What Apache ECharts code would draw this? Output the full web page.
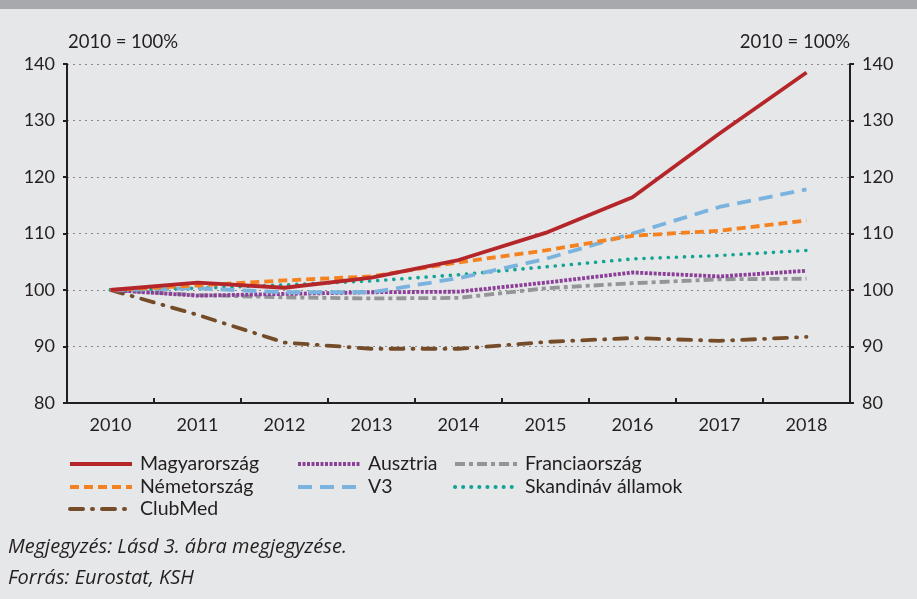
<!DOCTYPE html>
<html>
<head>
<meta charset="utf-8">
<script src="https://cdn.jsdelivr.net/npm/echarts@6/dist/echarts.min.js"></script>
<style>
  html, body { margin: 0; padding: 0; background: #e6e7e8; }
  #chart { width: 917px; height: 599px; }
</style>
</head>
<body>
<div id="chart"></div>
<script>
const years = ['2010', '2011', '2012', '2013', '2014', '2015', '2016', '2017', '2018'];
const yTicks = [80, 90, 100, 110, 120, 130, 140];

const magyarorszag = [100, 101.3, 100.4, 102.2, 105.3, 110.1, 116.4, 127.7, 138.5];
const nemetorszag = [100, 100.8, 101.7, 102.4, 104.9, 107.0, 109.6, 110.5, 112.3];
const ausztria = [100, 99.0, 99.3, 99.6, 99.7, 101.3, 103.1, 102.4, 103.4];
const v3 = [100, 100.3, 99.6, 99.6, 102.1, 105.5, 110.0, 114.7, 117.8];
const franciaorszag = [100, 99.1, 98.7, 98.5, 98.6, 100.3, 101.2, 101.9, 102.0];
const skandinav = [100, 100.3, 100.9, 101.6, 102.7, 104.1, 105.5, 106.1, 107.0];
const clubMed = [100, 95.6, 90.7, 89.6, 89.6, 90.8, 91.5, 91.0, 91.7];

const textColor = '#231f20';
const font = 'Lato';

function line(name, data, color, width, type, cap, z) {
  return {
    name: name,
    type: 'line',
    data: data,
    symbol: 'none',
    z: z,
    lineStyle: { color: color, width: width, type: type, cap: cap || 'butt' },
    itemStyle: { color: color },
    animation: false
  };
}

const series = [
  line('ClubMed', clubMed, '#754c29', 3.8, [13, 9, 1, 9], 'round', 2),
  line('Franciaország', franciaorszag, '#939598', 3.8, [10, 4, 4, 4], 'butt', 3),
  line('Ausztria', ausztria, '#8b3f98', 3.8, [3, 1.5], 'butt', 4),
  line('Skandináv államok', skandinav, '#14a397', 3.6, [0.1, 8], 'round', 5),
  line('V3', v3, '#7bb3df', 3.8, [14, 8], 'butt', 6),
  line('Németország', nemetorszag, '#f58220', 3.8, [9, 5], 'butt', 7),
  line('Magyarország', magyarorszag, '#b5262b', 3.8, 'solid', 'butt', 8)
];

const legendPos = [
  ['Magyarország', 68, 454],
  ['Ausztria', 296, 454],
  ['Franciaország', 453, 454],
  ['Németország', 68, 477],
  ['V3', 296, 477],
  ['Skandináv államok', 453, 477],
  ['ClubMed', 68, 499]
];

const chart = echarts.init(document.getElementById('chart'), null, { renderer: 'canvas' });

const axisCommon = {
  type: 'value',
  min: 80,
  max: 140,
  interval: 10,
  axisLine: { show: true, lineStyle: { color: textColor, width: 2 } },
  axisTick: { show: true, length: 4, lineStyle: { color: textColor, width: 2 } },
  axisLabel: { color: textColor, fontFamily: font, fontSize: 18, margin: 12 },
  splitLine: { show: false }
};

chart.setOption({
  backgroundColor: '#e6e7e8',
  animation: false,
  grid: { left: 67, right: 67, top: 64, bottom: 196, containLabel: false },
  legend: legendPos.map(function (p) {
    return {
      data: [p[0]],
      left: p[1],
      top: p[2],
      itemWidth: 62,
      itemHeight: 18,
      itemGap: 0,
      padding: 0,
      itemStyle: { opacity: 0 },
      lineStyle: { width: 4 },
      textStyle: { color: textColor, fontFamily: font, fontSize: 19.5, padding: [0, 0, 0, 3] }
    };
  }),
  xAxis: {
    type: 'category',
    data: years,
    boundaryGap: true,
    axisLine: { lineStyle: { color: textColor, width: 2 } },
    axisTick: { show: true, inside: true, length: 5, lineStyle: { color: textColor, width: 2 } },
    axisLabel: { color: textColor, fontFamily: font, fontSize: 18, margin: 13 }
  },
  yAxis: [
    Object.assign({}, axisCommon, {
      position: 'left',
      splitLine: { show: true, lineStyle: { color: '#8a8a8a', width: 1.2, type: [2, 4] } }
    }),
    Object.assign({}, axisCommon, {
      position: 'right'
    })
  ],
  graphic: [
    { type: 'rect', left: 0, top: 0, shape: { width: 917, height: 9 }, style: { fill: '#a7a9ac' } },
    { type: 'text', left: 68, top: 33, style: { text: '2010 = 100%', fill: textColor, font: '18.5px Lato' } },
    { type: 'text', right: 67, top: 33, style: { text: '2010 = 100%', fill: textColor, font: '18.5px Lato' } },
    { type: 'text', left: 8, top: 537, style: { text: 'Megjegyzés: Lásd 3. ábra megjegyzése.', fill: textColor, font: 'italic 20px "Open Sans"' } },
    { type: 'text', left: 8, top: 568, style: { text: 'Forrás: Eurostat, KSH', fill: textColor, font: 'italic 20px "Open Sans"' } }
  ],
  series: series
});
</script>
</body>
</html>
